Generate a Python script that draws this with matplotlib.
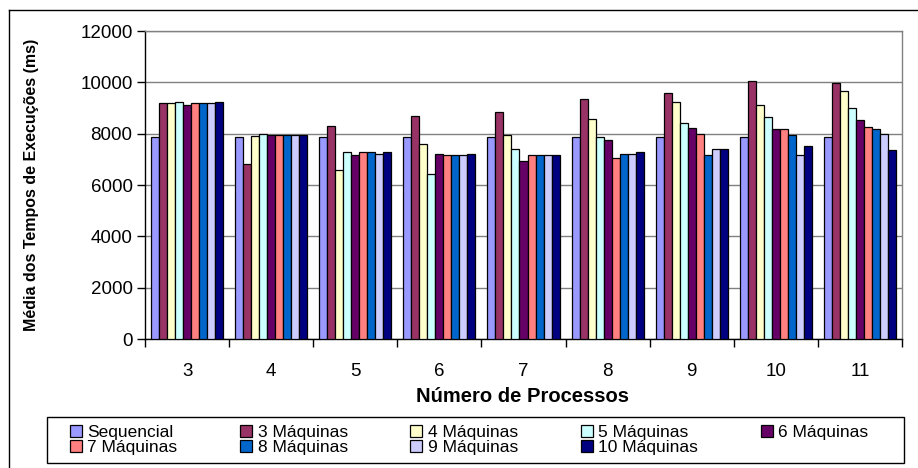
import matplotlib
matplotlib.use("Agg")
import matplotlib.pyplot as plt
import numpy as np
from matplotlib.lines import Line2D
from matplotlib.patches import Rectangle

plt.rcParams['font.family'] = ['Liberation Sans', 'DejaVu Sans']

processos = ["3", "4", "5", "6", "7", "8", "9", "10", "11"]

series_names = ["Sequencial", "3 Máquinas", "4 Máquinas", "5 Máquinas", "6 Máquinas",
                "7 Máquinas", "8 Máquinas", "9 Máquinas", "10 Máquinas"]

sequencial = [7870, 7870, 7870, 7870, 7870, 7870, 7870, 7870, 7870]
maq3 = [9180, 6820, 8280, 8700, 8830, 9350, 9590, 10060, 9990]
maq4 = [9180, 7920, 6590, 7590, 7940, 8580, 9230, 9130, 9660]
maq5 = [9230, 8000, 7280, 6410, 7410, 7870, 8410, 8650, 9000]
maq6 = [9110, 7940, 7170, 7210, 6930, 7770, 8230, 8170, 8520]
maq7 = [9180, 7940, 7280, 7150, 7150, 7060, 8000, 8170, 8250]
maq8 = [9180, 7940, 7280, 7150, 7150, 7220, 7160, 7940, 8170]
maq9 = [9180, 7940, 7220, 7150, 7150, 7220, 7410, 7160, 8000]
maq10 = [9230, 7940, 7280, 7210, 7150, 7290, 7410, 7530, 7370]

series = [sequencial, maq3, maq4, maq5, maq6, maq7, maq8, maq9, maq10]
colors = ["#9999FF", "#993366", "#FFFFCC", "#CCFFFF", "#660066",
          "#FF8080", "#0066CC", "#CCCCFF", "#000080"]

W, H = 918, 468
fig = plt.figure(figsize=(W / 100, H / 100), dpi=100)
ax = fig.add_axes([145 / W, 1 - 339 / H, (902 - 145) / W, (339 - 31) / H])

x = np.arange(len(processos))
bw = 0.0952
n = len(series)
bars = []
for i, (vals, col, name) in enumerate(zip(series, colors, series_names)):
    offs = (i - (n - 1) / 2) * bw
    b = ax.bar(x + offs, vals, width=bw, color=col, edgecolor="black",
               linewidth=0.9, label=name, zorder=3)
    bars.append(b)

ax.set_xlim(-0.5, len(processos) - 0.5)
ax.set_ylim(0, 12000)
ax.set_yticks(np.arange(0, 12001, 2000))
ax.yaxis.grid(True, color="#808080", linewidth=1.0, zorder=0)
ax.set_axisbelow(True)

ax.set_xticks(x)
ax.set_xticklabels(processos)
ax.set_xticks(np.arange(-0.5, len(processos), 1.0), minor=True)
ax.tick_params(axis="x", which="major", length=0, pad=17, labelsize=13.5)
ax.tick_params(axis="x", which="minor", length=6, width=1.0, direction="out", color="black")
ax.tick_params(axis="y", length=6, width=1.0, direction="out", pad=3, labelsize=13.5)

for s in ("top", "right"):
    ax.spines[s].set_color("#808080")
    ax.spines[s].set_linewidth(1.0)
for s in ("left", "bottom"):
    ax.spines[s].set_color("black")
    ax.spines[s].set_linewidth(1.0)

fig.text(523 / W, 1 - 397 / H, "Número de Processos", ha="center", va="center",
         fontsize=14.5, fontweight="bold")
fig.text(32 / W, 1 - 185 / H, "Média dos Tempos de Execuções (ms)", ha="center",
         va="center", rotation=90, fontsize=11.5, fontweight="bold")

# legend: row-wise order in a 5-column grid
order = [0, 5, 1, 6, 2, 7, 3, 8, 4]
leg = fig.legend([bars[k] for k in order], [series_names[k] for k in order],
                 loc="center", ncol=5,
                 bbox_to_anchor=(70 / W, 1 - 463 / H, (868 - 70) / W, (463 - 417) / H),
                 mode="expand", fontsize=12.5, frameon=False,
                 handlelength=0.7, handleheight=0.7, handletextpad=0.3,
                 labelspacing=0.0, borderpad=0.0, borderaxespad=0)
fig.add_artist(Rectangle((47 / W, 1 - 463 / H), (904 - 47) / W, (463 - 417) / H,
                         transform=fig.transFigure, facecolor="none",
                         edgecolor="black", linewidth=1.0))

# outer chart frame
fig.add_artist(Line2D([9 / W, 9 / W], [0, 1 - 10 / H], color="black", linewidth=1.0,
                      transform=fig.transFigure))
fig.add_artist(Line2D([9 / W, 1], [1 - 10 / H, 1 - 10 / H], color="black", linewidth=1.0,
                      transform=fig.transFigure))

fig.savefig("out.png", dpi=100)
